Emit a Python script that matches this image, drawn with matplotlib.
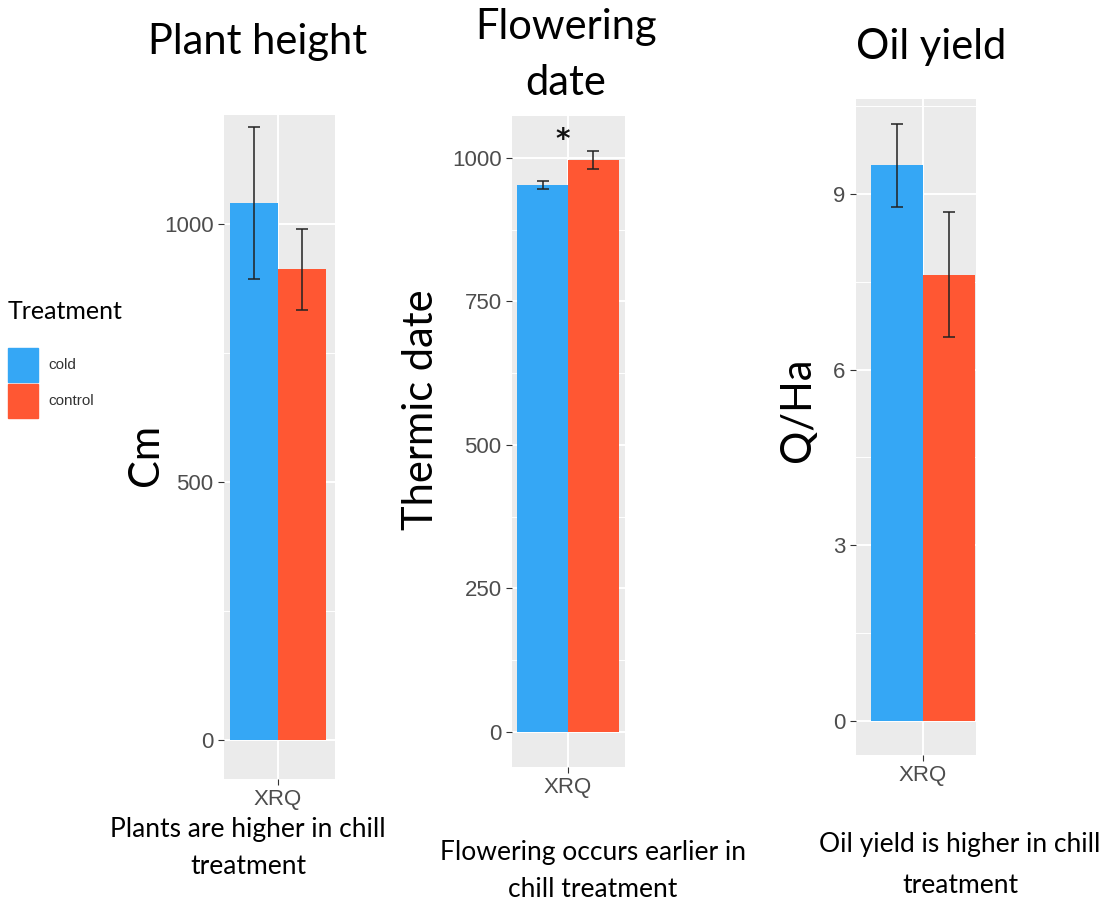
import matplotlib
matplotlib.use("Agg")
import matplotlib.pyplot as plt
from matplotlib.patches import Rectangle

# data
groups = ["cold", "control"]
colors = ["#35A7F5", "#FF5733"]
category = "XRQ"

height_mean = [1040, 912]
height_err = [147, 78]

flower_mean = [952, 996]
flower_err = [7, 16]

oil_mean = [9.49, 7.62]
oil_err = [0.71, 1.07]

titles = ["Plant height", "Flowering\ndate", "Oil yield"]
ylabels = ["Cm", "Thermic date", "Q/Ha"]
captions = ["Plants are higher in chill\ntreatment",
            "Flowering occurs earlier in\nchill treatment",
            "Oil yield is higher in chill\ntreatment"]

W, H = 1117, 909
fig = plt.figure(figsize=(W / 100, H / 100), dpi=100)
title_font = "Lato"
tick_font = "Liberation Sans"


def px_axes(left, right, top, bottom):
    return fig.add_axes([left / W, 1 - bottom / H, (right - left) / W, (bottom - top) / H])


def panel(ax, means, errs, xlim, ylim, major, minor):
    ax.set_facecolor("#EBEBEB")
    for s in ax.spines.values():
        s.set_visible(False)
    ax.set_xlim(*xlim)
    ax.set_ylim(*ylim)
    ax.set_yticks(major)
    ax.set_yticks(minor, minor=True)
    ax.set_xticks([1])
    ax.set_xticklabels([category])
    ax.grid(True, which="major", color="white", lw=1.4)
    ax.grid(True, which="minor", axis="y", color="white", lw=0.7)
    ax.set_axisbelow(True)
    ax.tick_params(which="major", length=4, color="#333333", labelcolor="#4D4D4D",
                   labelsize=16, width=0.8)
    ax.tick_params(which="minor", length=0)
    for lab in ax.get_xticklabels() + ax.get_yticklabels():
        lab.set_fontfamily(tick_font)
    xs = [0.75, 1.25]
    ax.bar(xs, means, width=0.5, color=colors, zorder=2)
    ax.errorbar(xs, means, yerr=errs, fmt="none", ecolor="#222222", elinewidth=1.1,
                capsize=4, capthick=1.1, zorder=3)


ax1 = px_axes(224, 335, 115, 779)
panel(ax1, height_mean, height_err, (0.44, 1.59), (-76, 1211), [0, 500, 1000], [250, 750])

ax2 = px_axes(512, 625, 116, 767)
panel(ax2, flower_mean, flower_err, (0.45, 1.56), (-61, 1073), [0, 250, 500, 750, 1000],
      [125, 375, 625, 875])
ax2.text(0.95, 1032, "*", ha="center", va="center", fontsize=20, fontweight="bold",
         color="#111111")

ax3 = px_axes(856, 976, 99, 755)
panel(ax3, oil_mean, oil_err, (0.356, 1.51), (-0.58, 10.62), [0, 3, 6, 9],
      [1.5, 4.5, 7.5, 10.5])

# titles
fig.text(258 / W, 1 - 42 / H, titles[0], ha="center", va="center",
         fontsize=30, family=title_font)
fig.text(566 / W, 1 - 55 / H, titles[1], ha="center", va="center",
         fontsize=30, family=title_font, linespacing=1.55)
fig.text(931 / W, 1 - 47 / H, titles[2], ha="center", va="center",
         fontsize=30, family=title_font)

# y labels
fig.text(146 / W, 1 - 455 / H, ylabels[0], rotation=90, ha="center", va="center",
         fontsize=30, family=title_font)
fig.text(421 / W, 1 - 410 / H, ylabels[1], rotation=90, ha="center", va="center",
         fontsize=30, family=title_font)
fig.text(798 / W, 1 - 410 / H, ylabels[2], rotation=90, ha="center", va="center",
         fontsize=30, family=title_font)

# legend
fig.text(8 / W, 1 - 312 / H, "Treatment", ha="left", va="center", fontsize=18,
         family=title_font)
for i, (g, c) in enumerate(zip(groups, colors)):
    y0 = 348 + i * 36
    fig.patches.append(Rectangle((8 / W, 1 - (y0 + 34) / H), 30 / W, 34 / H,
                                 transform=fig.transFigure, color=c))
    fig.text(48 / W, 1 - (y0 + 17) / H, g, ha="left", va="center", fontsize=11,
             family=tick_font, color="#333333")

# captions
cap_x = [248, 593, 960]
cap_y = [848, 871, 865]
cap_sp = [1.6, 1.6, 1.8]
for x, y, t, sp in zip(cap_x, cap_y, captions, cap_sp):
    fig.text(x / W, 1 - y / H, t, ha="center", va="center", fontsize=19,
             family=title_font, linespacing=sp)

fig.savefig("out.png", dpi=100)
